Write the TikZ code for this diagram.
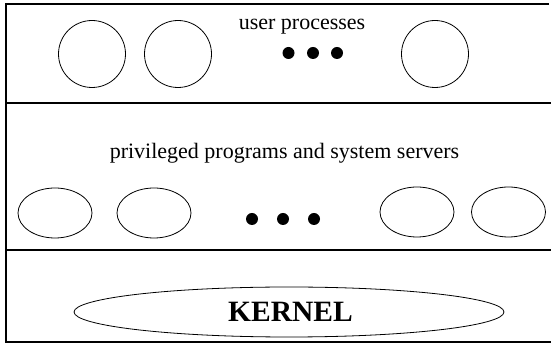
\documentclass[tikz,border=0pt]{standalone}
\usepackage{fontspec}
\setmainfont{Liberation Serif}
\usetikzlibrary{shapes.geometric}
\begin{document}
\begin{tikzpicture}[x=1pt,y=-1pt,
  frame/.style={line width=1.2pt},
  proc/.style={circle,draw,line width=0.8pt,minimum size=67pt,inner sep=0pt},
  srv/.style={ellipse,draw,line width=0.8pt,minimum width=74pt,minimum height=50pt,inner sep=0pt},
  dot/.style={circle,fill,inner sep=0pt,minimum size=12pt},
  lbl/.style={font=\fontsize{22}{26}\selectfont,inner sep=0pt}]
\useasboundingbox (0,0) rectangle (552,344);
% layer frame
\coordinate (tl) at (6,4);
\coordinate (tr) at (549,4);
\coordinate (bl) at (6,342);
\coordinate (br) at (551,342);
\coordinate (m1l) at (6,103);
\coordinate (m1r) at (551,103);
\coordinate (m2l) at (6,250);
\coordinate (m2r) at (551,250);
\draw[frame] (tr) -- (tl) -- (bl) -- (br);
\draw[frame] (m1l) -- (m1r);
\draw[frame] (m2l) -- (m2r);
% user processes
\node[lbl] (ulabel) at (302,27) {user processes};
\node[proc] (p1) at (92,54) {};
\node[proc] (p2) at (178,54) {};
\node[proc] (p3) at (435,54) {};
\node[dot] (ud1) at (288.5,53) {};
\node[dot] (ud2) at (313,53) {};
\node[dot] (ud3) at (337,53) {};
% privileged programs and system servers
\node[lbl] (slabel) at (284.5,153) {privileged programs and system servers};
\node[srv] (s1) at (55,213) {};
\node[srv] (s2) at (154,213) {};
\node[srv] (s3) at (417,212) {};
\node[srv] (s4) at (508.5,212) {};
\node[dot] (sd1) at (252,219) {};
\node[dot] (sd2) at (283,219) {};
\node[dot] (sd3) at (314,219) {};
% kernel
\node[ellipse,draw,line width=0.8pt,minimum width=430pt,minimum height=50pt,inner sep=0pt] (kern) at (289,312) {};
\node[font=\fontsize{29.5}{34}\selectfont\bfseries,inner sep=0pt] (klabel) at (290.5,312) {KERNEL};
\end{tikzpicture}
\end{document}
